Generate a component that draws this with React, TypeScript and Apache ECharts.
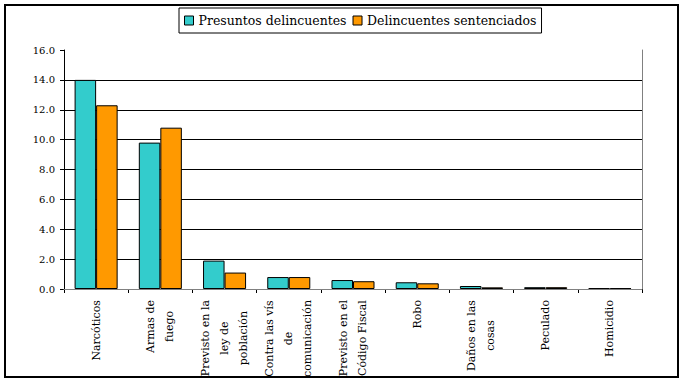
import React, { useEffect, useRef } from "react";
import * as echarts from "echarts";

const categories = [
  "Narcóticos",
  "Armas de\nfuego",
  "Previsto en la\nley de\npoblación",
  "Contra las vís\nde\ncomunicación",
  "Previsto en el\nCódigo Fiscal",
  "Robo",
  "Daños en las\ncosas",
  "Peculado",
  "Homicidio",
];
const presuntos = [14.0, 9.8, 1.9, 0.8, 0.6, 0.45, 0.2, 0.12, 0.05];
const sentenciados = [12.3, 10.8, 1.1, 0.8, 0.52, 0.38, 0.11, 0.12, 0.05];
const seriesNames = ["Presuntos delincuentes", "Delincuentes sentenciados"];

const FONT = "'DejaVu Serif', serif";

export default function App() {
  const ref = useRef<HTMLDivElement>(null);
  useEffect(() => {
    if (!ref.current) return;
    const chart = echarts.init(ref.current, null, { renderer: "svg" });
    chart.setOption({
      animation: false,
      backgroundColor: "#ffffff",
      textStyle: { fontFamily: FONT, color: "#000" },
      graphic: [
        {
          type: "rect",
          shape: { x: 5, y: 5, width: 673, height: 372 },
          style: { fill: "none", stroke: "#000", lineWidth: 2 },
          silent: true,
          z: 100,
        },
      ],
      legend: {
        left: 179,
        top: 8,
        padding: [6, 5, 6, 5],
        borderColor: "#000",
        borderWidth: 1,
        itemWidth: 9,
        itemHeight: 9,
        itemGap: 6,
        icon: "rect",
        textStyle: { fontFamily: FONT, fontSize: 12.5, color: "#000" },
        data: seriesNames.map((n) => ({ name: n, itemStyle: { borderColor: "#000", borderWidth: 1 } })),
      },
      grid: { left: 64, right: 43, top: 50, bottom: 93, containLabel: false },
      xAxis: [
        {
          type: "category",
          data: categories,
          axisLine: { lineStyle: { color: "#000", width: 1 } },
          axisTick: { show: true, length: 4, lineStyle: { color: "#000" } },
          axisLabel: {
            rotate: 90,
            interval: 0,
            margin: 11,
            fontFamily: FONT,
            fontSize: 11,
            color: "#000",
            lineHeight: 19,
            formatter: (v: string) =>
              v
                .split("\n")
                .map((l) => "{c|" + l + "}")
                .join("\n"),
            rich: { c: { align: "center", fontFamily: FONT, fontSize: 11, lineHeight: 19, color: "#000" } },
          },
        },
        {
          type: "category",
          position: "top",
          data: categories,
          z: 10,
          axisLine: { lineStyle: { color: "#808080", width: 1 } },
          axisTick: { show: false },
          axisLabel: { show: false },
        },
      ],
      yAxis: [
        {
          type: "value",
          min: 0,
          max: 16,
          interval: 2,
          axisLine: { show: true, lineStyle: { color: "#000" } },
          axisTick: { show: true, length: 4, lineStyle: { color: "#000" } },
          axisLabel: {
            margin: 9,
            fontFamily: FONT,
            fontSize: 10,
            color: "#000",
            formatter: (v: number) => v.toFixed(1),
          },
          splitLine: { show: true, showMaxLine: false, lineStyle: { color: "#000", width: 1 } },
        },
        {
          type: "value",
          position: "right",
          min: 0,
          max: 16,
          interval: 2,
          axisLine: { show: true, lineStyle: { color: "#808080" } },
          axisTick: { show: false },
          axisLabel: { show: false },
          splitLine: { show: false },
        },
      ],
      series: [
        {
          name: seriesNames[0],
          type: "bar",
          data: presuntos,
          barGap: "0%",
          barCategoryGap: "33%",
          itemStyle: { color: "#33CCCC", borderColor: "#000", borderWidth: 1 },
        },
        {
          name: seriesNames[1],
          type: "bar",
          data: sentenciados,
          barGap: "0%",
          barCategoryGap: "33%",
          itemStyle: { color: "#FF9900", borderColor: "#000", borderWidth: 1 },
        },
      ],
    });
    return () => chart.dispose();
  }, []);
  return (
    <div
      ref={ref}
      style={{ position: "absolute", left: 0, top: 0, width: 685, height: 382 }}
    />
  );
}
